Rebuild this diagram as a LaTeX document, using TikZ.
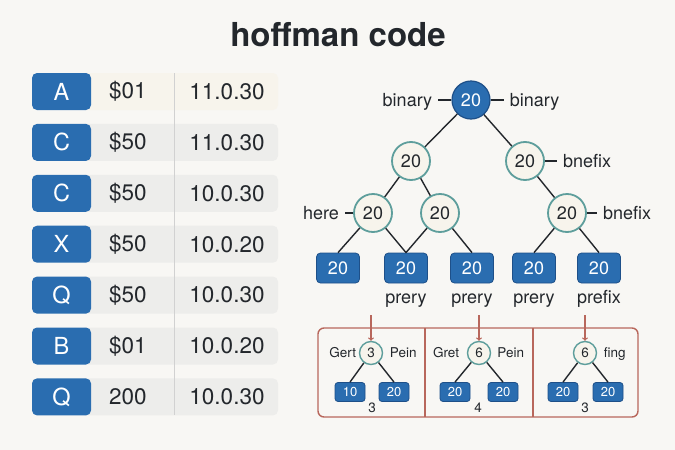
\documentclass[tikz,border=0pt]{standalone}
\usepackage{fontspec}
\setmainfont{TeX Gyre Heros}
\usepackage{xcolor}
\usepackage{tikz}
\usetikzlibrary{calc, positioning}

\definecolor{hblue}{HTML}{2A6DB0}
\definecolor{hdark}{HTML}{1E5089}
\definecolor{hteal}{HTML}{5E9E9C}
\definecolor{hcream}{HTML}{F7F4EC}
\definecolor{hgray}{HTML}{EDEDEB}
\definecolor{hred}{HTML}{B8675C}
\definecolor{htext}{HTML}{23272C}
\definecolor{hbg}{HTML}{F8F7F4}

\begin{document}
\begin{tikzpicture}[x=1pt, y=-1pt, >=to,
    font=\fontsize{18}{20}\selectfont, text=htext,
    keybox/.style={fill=hblue, text=white, rounded corners=5pt, minimum width=59pt,
        minimum height=37pt, inner sep=0pt, font=\fontsize{23.5}{26}\selectfont},
    cell/.style={inner sep=0pt, font=\fontsize{22.5}{26}\selectfont},
    rootnode/.style={circle, draw=hdark, fill=hblue, text=white, line width=1.2pt,
        minimum size=38pt, inner sep=0pt},
    innode/.style={circle, draw=hteal, fill=hcream, line width=1.8pt,
        minimum size=38pt, inner sep=0pt},
    leafnode/.style={draw=hdark, fill=hblue, text=white, rounded corners=4pt,
        line width=0.8pt, minimum width=43pt, minimum height=30pt, inner sep=0pt},
    smallin/.style={innode, minimum size=23pt, line width=1.4pt,
        font=\fontsize{13.5}{15}\selectfont},
    smallleaf/.style={leafnode, minimum width=30pt, minimum height=19pt,
        rounded corners=3pt, font=\fontsize{13}{14}\selectfont},
    lbl/.style={inner xsep=6pt, inner ysep=0pt, text height=12.6pt, text depth=0pt},
    smalllbl/.style={inner sep=1pt, text height=9.7pt, text depth=0pt,
        font=\fontsize{13.5}{15}\selectfont},
    link/.style={draw=htext, line width=1.4pt}]

    % Nền
    \fill[hbg] (0,0) rectangle (675,450);
    \useasboundingbox (0,0) rectangle (675,450);

    % Tiêu đề
    \node[font=\bfseries\fontsize{33}{36}\selectfont] (title) at (338,35) {hoffman code};

    % Bảng
    \foreach \l/\m/\ip/\c [count=\i] in {A/\$01/11.0.30/hcream, C/\$50/11.0.30/hgray,
        C/\$50/10.0.30/hgray, X/\$50/10.0.20/hgray, Q/\$50/10.0.30/hgray,
        B/\$01/10.0.20/hgray, Q/200/10.0.30/hgray}{
        \pgfmathsetmacro\y{40.6+50.9*\i}
        \fill[\c, rounded corners=5pt] (80,\y-18.5) rectangle (278,\y+18.5);
        \node[keybox] (key\i) at (61.5,\y) {\l};
        \node[cell, anchor=west] (amt\i) at (109,\y) {\m};
        \node[cell] (ip\i) at (227,\y) {\ip};
    }
    \draw[black!18, line width=0.8pt] (174,73) -- (174,415);

    % Cây
    \node[rootnode] (r) at (471,100) {20};
    \node[innode] (a) at (411,161) {20};
    \node[innode] (b) at (525,161) {20};
    \node[innode] (c) at (373,213) {20};
    \node[innode] (d) at (440,213) {20};
    \node[innode] (e) at (567,213) {20};
    \foreach \x [count=\i] in {338,406,472,534,599}
        \node[leafnode] (l\i) at (\x,268) {20};

    \draw[link] (r) -- (a);
    \draw[link] (r) -- (b);
    \draw[link] (a) -- (c);
    \draw[link] (a) -- (d);
    \draw[link] (b) -- (e);
    \draw[link] (c) -- (l1.north);
    \draw[link] (c) -- (l2.north);
    \draw[link] (d) -- (l2.north);
    \draw[link] (d) -- (l3.north);
    \draw[link] (e) -- (l4.north);
    \draw[link] (e) -- (l5.north);

    \node[lbl, left=13pt of r] (bl) {binary};
    \node[lbl, right=13pt of r] (br) {binary};
    \node[lbl, right=12pt of b] (bn1) {bnefix};
    \node[lbl, left=8pt of c] (hr) {here};
    \node[lbl, right=10pt of e] (bn2) {bnefix};
    \draw[link] (bl) -- (r);
    \draw[link] (r) -- (br);
    \draw[link] (b) -- (bn1);
    \draw[link] (hr) -- (c);
    \draw[link] (e) -- (bn2);

    \node[anchor=base] (p2) at (406,303) {prery};
    \node[anchor=base] (p3) at (472,303) {prery};
    \node[anchor=base] (p4) at (534,303) {prery};
    \node[anchor=base] (p5) at (599,303) {prefix};

    % Hộp dưới
    \draw[hred, line width=1.4pt, rounded corners=6pt] (318,328) rectangle (638,417);
    \draw[hred, line width=1.4pt] (425,328) -- (425,417);
    \draw[hred, line width=1.4pt] (533,328) -- (533,417);

    \node[smallin] (s1) at (371,353) {3};
    \node[smallin] (s2) at (479,353) {6};
    \node[smallin] (s3) at (585,353) {6};
    \foreach \x [count=\i] in {371,479,585}
        \coordinate (t\i) at (\x,315);
    \foreach \i in {1,2,3}
        \draw[->, hred, line width=1.2pt] (t\i) -- (s\i);

    \node[smallleaf] (k1) at (350,392) {10};
    \node[smallleaf] (k2) at (394,392) {20};
    \node[smallleaf] (k3) at (455,392) {20};
    \node[smallleaf] (k4) at (503,392) {20};
    \node[smallleaf] (k5) at (563,392) {20};
    \node[smallleaf] (k6) at (608,392) {20};
    \draw[link] (s1) -- (k1.north);
    \draw[link] (s1) -- (k2.north);
    \draw[link] (s2) -- (k3.north);
    \draw[link] (s2) -- (k4.north);
    \draw[link] (s3) -- (k5.north);
    \draw[link] (s3) -- (k6.north);

    \node[smalllbl, left=1.5pt of s1] (g1) {Gert};
    \node[smalllbl, right=5.5pt of s1] (pn1) {Pein};
    \node[smalllbl, left=6.5pt of s2] (g2) {Gret};
    \node[smalllbl, right=5pt of s2] (pn2) {Pein};
    \node[smalllbl, right=5.5pt of s3] (fg) {fing};

    \node[font=\fontsize{13.5}{15}\selectfont] (n1) at (372,408) {3};
    \node[font=\fontsize{13.5}{15}\selectfont] (n2) at (478,408) {4};
    \node[font=\fontsize{13.5}{15}\selectfont] (n3) at (585,408) {3};
\end{tikzpicture}
\end{document}
